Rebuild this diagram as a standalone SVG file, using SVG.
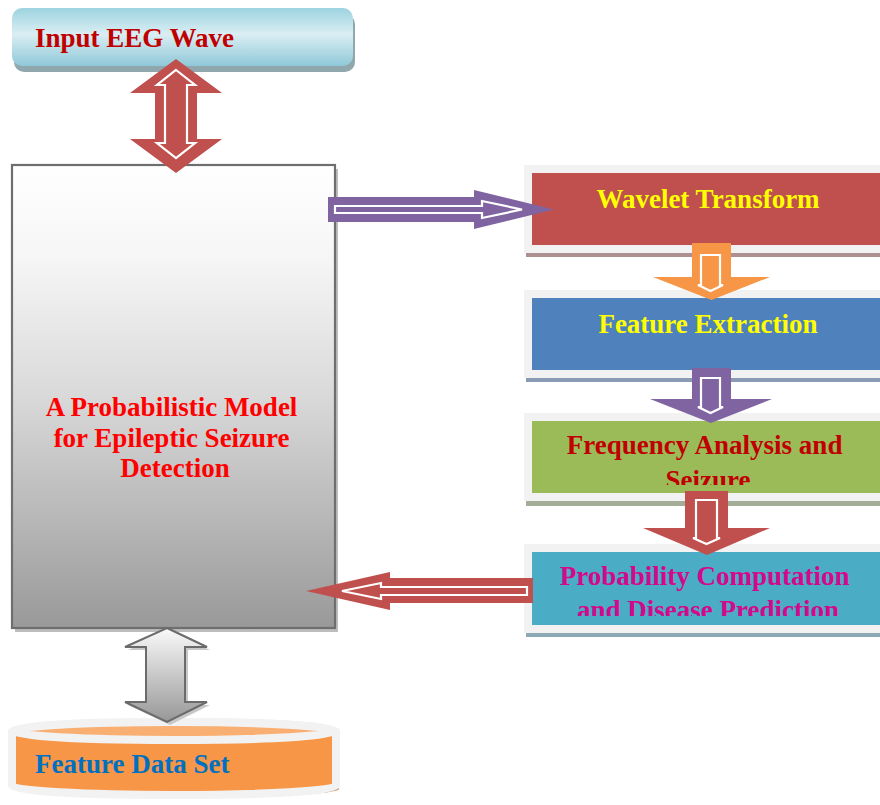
<svg xmlns="http://www.w3.org/2000/svg" width="880" height="805" viewBox="0 0 880 805">
<style>
  .t { font-family: "Liberation Serif", "Times New Roman", serif; font-weight: bold; font-size: 27px; }
  .band { stroke: #F2F2F2; stroke-width: 8; }
  .inner { stroke: #FFFFFF; stroke-width: 2.2; stroke-linejoin: miter; }
</style>
<defs>
  <linearGradient id="gInput" x1="0" y1="0" x2="0" y2="1">
    <stop offset="0" stop-color="#9DD3E0"/>
    <stop offset="0.45" stop-color="#DAEEF3"/>
    <stop offset="1" stop-color="#8FC8D8"/>
  </linearGradient>
  <linearGradient id="gMain" x1="0" y1="0" x2="0" y2="1">
    <stop offset="0" stop-color="#FFFFFF"/>
    <stop offset="0.2" stop-color="#F6F6F6"/>
    <stop offset="0.5" stop-color="#D9D9D9"/>
    <stop offset="1" stop-color="#999999"/>
  </linearGradient>
  <linearGradient id="gGray" x1="0" y1="0" x2="0" y2="1">
    <stop offset="0" stop-color="#FAFAFA"/>
    <stop offset="1" stop-color="#979797"/>
  </linearGradient>
  <clipPath id="clipFreq"><rect x="520" y="415" width="360" height="70"/></clipPath>
  <clipPath id="clipProb"><rect x="520" y="545" width="360" height="71"/></clipPath>
</defs>

<g id="input-eeg-wave">
  <rect x="14" y="14" width="341" height="58" rx="10" fill="#8FA7AD"/>
  <rect x="12" y="8" width="341" height="58" rx="10" fill="url(#gInput)"/>
  <text class="t" x="35" y="47" fill="#C00000">Input EEG Wave</text>
</g>

<g id="probabilistic-model">
  <rect x="15" y="169" width="323" height="463" fill="#BDBDBD"/>
  <rect x="12" y="165" width="323" height="463" fill="url(#gMain)" stroke="#6E6E6E" stroke-width="2.2"/>
  <text class="t" fill="#FF0000" text-anchor="middle">
    <tspan x="175" y="416">A Probabilistic Model</tspan>
    <tspan x="175" y="447">for Epileptic Seizure</tspan>
    <tspan x="175" y="477">Detection</tspan>
  </text>
</g>

<g id="wavelet-transform">
  <rect x="526" y="169" width="410" height="88" fill="#AE9090"/>
  <rect x="528" y="169" width="400" height="80" fill="#C0504D" class="band"/>
  <text class="t" x="708" y="208" fill="#FFFF00" text-anchor="middle">Wavelet Transform</text>
</g>

<g id="feature-extraction">
  <rect x="526" y="294" width="410" height="88" fill="#8A9CB4"/>
  <rect x="528" y="294" width="400" height="80" fill="#4F81BD" class="band"/>
  <text class="t" x="708" y="333" fill="#FFFF00" text-anchor="middle">Feature Extraction</text>
</g>

<g id="frequency-analysis">
  <rect x="526" y="417" width="410" height="89" fill="#A4AD97"/>
  <rect x="528" y="417" width="400" height="80" fill="#9BBB59" class="band"/>
  <text class="t" fill="#C00000" text-anchor="middle" clip-path="url(#clipFreq)">
    <tspan x="708" y="454">Frequency Analysis and</tspan>
    <tspan x="708" y="489">Seizure</tspan>
  </text>
</g>

<g id="probability-computation">
  <rect x="526" y="548" width="410" height="89" fill="#8DA9B3"/>
  <rect x="528" y="548" width="400" height="81" fill="#4BACC6" class="band"/>
  <text class="t" fill="#D4088C" text-anchor="middle" clip-path="url(#clipProb)">
    <tspan x="708" y="585">Probability Computation</tspan>
    <tspan x="708" y="619">and Disease Prediction</tspan>
  </text>
</g>

<g id="feature-data-set">
  <path d="M15,734 A162,9 0 0 1 339,734 V789 A162,9 0 0 1 15,789 Z" fill="#C99A70"/>
  <path d="M12,731 A162,9 0 0 1 336,731 V786 A162,9 0 0 1 12,786 Z" fill="#F79646" stroke="#F2F2F2" stroke-width="8"/>
  <ellipse cx="174" cy="731" rx="162" ry="9" fill="#F9AF72" stroke="#F2F2F2" stroke-width="8"/>
  <text class="t" x="35" y="773" fill="#0070C0">Feature Data Set</text>
</g>

<g id="connectors">
  <!-- Input <-> Model -->
  <path d="M176,59 L222,93 L197,93 L197,139 L222,139 L176,173 L130,139 L155,139 L155,93 L130,93 Z" fill="#C0504D"/>
  <path d="M176,70 L195,85 L187,85 L187,143 L195,143 L176,158 L157,143 L165,143 L165,85 L157,85 Z" fill="#C0504D" class="inner"/>
  <!-- Model -> Wavelet -->
  <path d="M328,197 L474,197 L474,190 L554,209.5 L474,229 L474,222 L328,222 Z" fill="#8064A2"/>
  <path d="M335,206 L482,206 L482,201 L522,209.5 L482,218 L482,213 L335,213 Z" fill="#8064A2" class="inner"/>
  <!-- Wavelet -> Feature Extraction -->
  <path d="M692,243 L731,243 L731,277 L770,277 L711.5,300 L653,277 L692,277 Z" fill="#F79646"/>
  <path d="M701,255 L720,255 L720,285 L723,285 L710.5,291 L698,285 L701,285 Z" fill="#F79646" class="inner"/>
  <!-- Feature Extraction -> Frequency -->
  <path d="M692,368 L731,368 L731,399 L772,399 L711,423 L650,399 L692,399 Z" fill="#8064A2"/>
  <path d="M701,378 L720,378 L720,407 L723,407 L710.5,413 L698,407 L701,407 Z" fill="#8064A2" class="inner"/>
  <!-- Frequency -> Probability -->
  <path d="M685,491 L728,491 L728,528 L770,528 L707,555 L643,528 L685,528 Z" fill="#C0504D"/>
  <path d="M696,500 L717,500 L717,538 L720,538 L706.5,544 L693,538 L696,538 Z" fill="#C0504D" class="inner"/>
  <!-- Probability -> Model -->
  <path d="M533,578 L390,578 L390,572 L306,591 L390,610 L390,603 L533,603 Z" fill="#C0504D"/>
  <path d="M527,587 L381,587 L381,583 L342,591 L381,599 L381,595 L527,595 Z" fill="#C0504D" class="inner"/>
  <!-- Model <-> Feature Data Set -->
  <path d="M170,631 L210,650 L188,650 L188,705 L210,705 L170,725 L128,705 L149,705 L149,650 L128,650 Z" fill="#C8C8C8"/>
  <path d="M167,628 L207,647 L185,647 L185,702 L207,702 L167,722 L125,702 L146,702 L146,647 L125,647 Z" fill="url(#gGray)" stroke="#6B6B6B" stroke-width="2"/>
</g>
</svg>
